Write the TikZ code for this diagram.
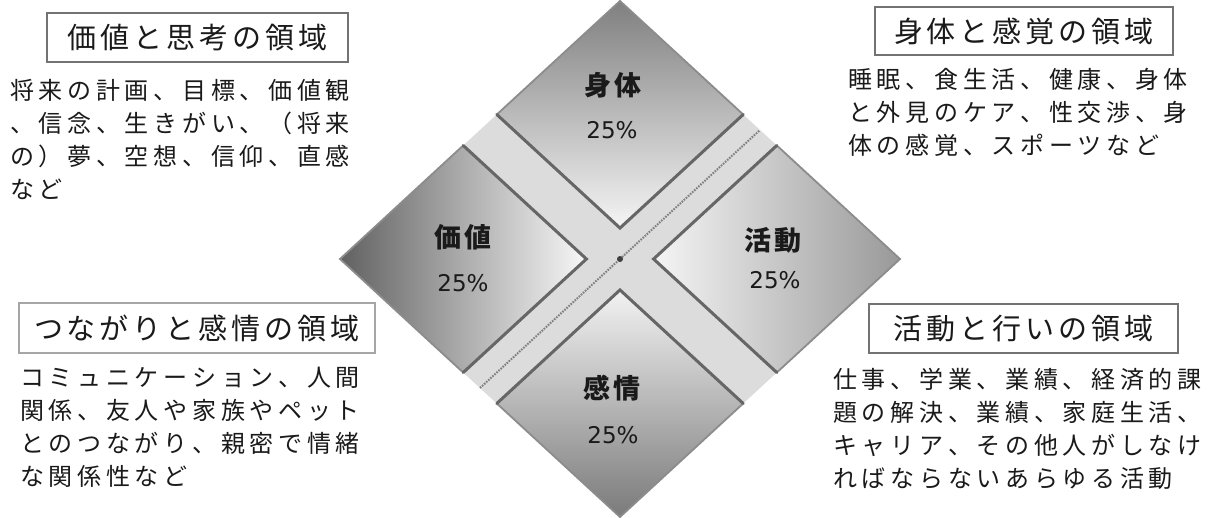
\documentclass[tikz,border=0pt]{standalone}
\usepackage{fontspec}
\setmainfont{DejaVu Sans}
\newfontfamily\jp{Noto Sans CJK JP}
\ExplSyntaxOn
\NewDocumentCommand\lsp{O{4.7pt} m}{\kern-#1\tl_map_inline:nn{#2}{\kern#1 ##1}}
\ExplSyntaxOff
\definecolor{band}{HTML}{DCDCDC}
\definecolor{ink}{HTML}{1A1A1A}
\tikzset{
  titlebox/.style={draw=black!55, line width=2pt, inner sep=0pt, text=ink,
    font=\jp\fontsize{29pt}{33pt}\selectfont},
  bodytext/.style={inner sep=0pt, anchor=north west, align=left, text=ink,
    font=\jp\fontsize{24pt}{33pt}\selectfont},
  tilename/.style={inner sep=0pt, text=ink, font=\jp\bfseries\fontsize{27pt}{30pt}\selectfont},
  tilepct/.style={inner sep=0pt, text=ink, font=\fontsize{23pt}{26pt}\selectfont},
  inneredge/.style={draw=black!60, line width=3pt, line join=miter, line cap=round},
  outeredge/.style={draw=black!45, line width=1.8pt, line join=miter},
}
\begin{document}
\begin{tikzpicture}[x=1pt,y=1pt]
\useasboundingbox (0,0) rectangle (1215,517);
\fill[white] (0,0) rectangle (1215,517);

% diamond
\begin{scope}[shift={(620pt,258pt)}, x=280pt, y=258pt]
  \fill[band] (0,1) -- (1,0) -- (0,-1) -- (-1,0) -- cycle;
  % top tile
  \shade[top color=black!50, bottom color=black!4]
    (0,1) -- (0.44,0.56) -- (0,0.12) -- (-0.44,0.56) -- cycle;
  \draw[outeredge] (-0.44,0.56) -- (0,1) -- (0.44,0.56);
  \draw[inneredge] (0.44,0.56) -- (0,0.12) -- (-0.44,0.56);
  % right tile
  \shade[left color=black!4, right color=black!40]
    (1,0) -- (0.56,0.44) -- (0.12,0) -- (0.56,-0.44) -- cycle;
  \draw[outeredge] (0.56,0.44) -- (1,0) -- (0.56,-0.44);
  \draw[inneredge] (0.56,0.44) -- (0.12,0) -- (0.56,-0.44);
  % bottom tile
  \shade[top color=black!5, bottom color=black!52]
    (0,-1) -- (0.44,-0.56) -- (0,-0.12) -- (-0.44,-0.56) -- cycle;
  \draw[outeredge] (-0.44,-0.56) -- (0,-1) -- (0.44,-0.56);
  \draw[inneredge] (0.44,-0.56) -- (0,-0.12) -- (-0.44,-0.56);
  % left tile
  \shade[left color=black!62, right color=black!3]
    (-1,0) -- (-0.56,0.44) -- (-0.12,0) -- (-0.56,-0.44) -- cycle;
  \draw[outeredge] (-0.56,0.44) -- (-1,0) -- (-0.56,-0.44);
  \draw[inneredge] (-0.56,0.44) -- (-0.12,0) -- (-0.56,-0.44);
  % seam
  \coordinate (seamA) at (-0.5,-0.5);
  \coordinate (seamB) at (0.5,0.5);
  \coordinate (ctr) at (0,0);
  \draw[black!50, line width=2pt, dash pattern=on 1.6pt off 1.2pt] (seamA) -- (seamB);
  \fill[black!75] (ctr) circle[radius=3pt];
\end{scope}

% tile labels
\node[tilename] (n1) at (613,432) {\lsp[3pt]{身体}};
\node[tilepct]  (p1) at (612,387) {25\%};
\node[tilename] (n2) at (463,280) {\lsp[3pt]{価値}};
\node[tilepct]  (p2) at (463,234) {25\%};
\node[tilename] (n3) at (773,277) {\lsp[3pt]{活動}};
\node[tilepct]  (p3) at (775,237) {25\%};
\node[tilename] (n4) at (612,129) {\lsp[3pt]{感情}};
\node[tilepct]  (p4) at (613,82)  {25\%};

% titles
\node[titlebox, minimum width=301pt, minimum height=49pt] (t1) at (197.5,479.5) {\lsp[4pt]{価値と思考の領域}};
\node[titlebox, minimum width=298pt, minimum height=48pt] (t2) at (1024,486) {\lsp[4pt]{身体と感覚の領域}};
\node[titlebox, draw=black!35, minimum width=356pt, minimum height=50pt] (t3) at (197,189) {\lsp[4pt]{つながりと感情の領域}};
\node[titlebox, minimum width=309pt, minimum height=49pt] (t4) at (1023.5,188.5) {\lsp[4pt]{活動と行いの領域}};

% bodies
\node[bodytext] (b1) at (10,438) {\lsp{将来の計画、目標、価値観}\\\lsp{、信念、生きがい、（将来}\\\lsp{の）夢、空想、信仰、直感}\\\lsp{など}};
\node[bodytext] (b2) at (848,449) {\lsp{睡眠、食生活、健康、身体}\\\lsp{と外見のケア、性交渉、身}\\\lsp{体の感覚、スポーツなど}};
\node[bodytext] (b3) at (20,150) {\lsp{コミュニケーション、人間}\\\lsp{関係、友人や家族やペット}\\\lsp{とのつながり、親密で情緒}\\\lsp{な関係性など}};
\node[bodytext] (b4) at (833,149) {\lsp{仕事、学業、業績、経済的課}\\\lsp{題の解決、業績、家庭生活、}\\\lsp{キャリア、その他人がしなけ}\\\lsp{ればならないあらゆる活動}};
\end{tikzpicture}
\end{document}
